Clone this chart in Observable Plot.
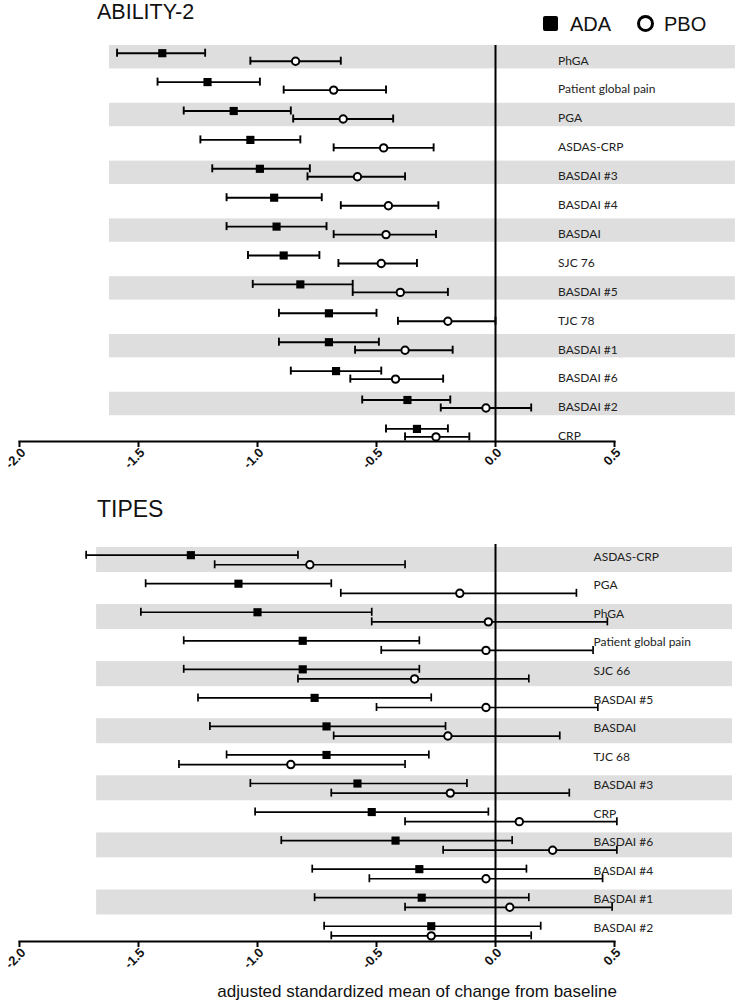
<!DOCTYPE html>
<html>
<head>
<meta charset="utf-8">
<script src="https://cdn.jsdelivr.net/npm/d3@7"></script>
<script src="https://cdn.jsdelivr.net/npm/@observablehq/plot@0.6"></script>
<style>
  html, body { margin: 0; padding: 0; background: #fff; }
  #wrap { position: relative; width: 738px; height: 1004px; font-family: "Liberation Sans", Arial, sans-serif; color: #111; }
  .abs { position: absolute; line-height: 1.15; white-space: nowrap; z-index: 2; }
  #top, #bot { position: absolute; left: 0; z-index: 1; }
  #top { top: 0; }
  #bot { top: 480px; }
</style>
</head>
<body>
<div id="wrap">
  <div id="top"></div>
  <div id="bot"></div>
  <div class="abs" style="left:97px; top:0px; font-size:21.5px;">ABILITY-2</div>
  <div class="abs" style="left:97px; top:496px; font-size:23px;">TIPES</div>
  <div class="abs" style="left:543px; top:16px; width:15px; height:15px; background:#000; border-radius:2px;"></div>
  <div class="abs" style="left:570px; top:12.5px; font-size:20px;">ADA</div>
  <div class="abs" style="left:637px; top:15px; width:11px; height:11px; border:3.5px solid #000; border-radius:50%;"></div>
  <div class="abs" style="left:664px; top:12.5px; font-size:20px;">PBO</div>
  <div class="abs" style="right:121px; top:982px; font-size:17px;">adjusted standardized mean of change from baseline</div>
</div>
<script>
// ---------- ABILITY-2 ----------
const abilityCats = ["PhGA","Patient global pain","PGA","ASDAS-CRP","BASDAI #3","BASDAI #4","BASDAI","SJC 76","BASDAI #5","TJC 78","BASDAI #1","BASDAI #6","BASDAI #2","CRP"];
const abilityAdaMean = [-1.40,-1.21,-1.10,-1.03,-0.99,-0.93,-0.92,-0.89,-0.82,-0.70,-0.70,-0.67,-0.37,-0.33];
const abilityAdaLo   = [-1.59,-1.42,-1.31,-1.24,-1.19,-1.13,-1.13,-1.04,-1.02,-0.91,-0.91,-0.86,-0.56,-0.46];
const abilityAdaHi   = [-1.22,-0.99,-0.86,-0.82,-0.78,-0.73,-0.71,-0.74,-0.60,-0.50,-0.49,-0.48,-0.19,-0.20];
const abilityPboMean = [-0.84,-0.68,-0.64,-0.47,-0.58,-0.45,-0.46,-0.48,-0.40,-0.20,-0.38,-0.42,-0.04,-0.25];
const abilityPboLo   = [-1.03,-0.89,-0.85,-0.68,-0.79,-0.65,-0.68,-0.66,-0.60,-0.41,-0.59,-0.61,-0.23,-0.38];
const abilityPboHi   = [-0.65,-0.46,-0.43,-0.26,-0.38,-0.24,-0.25,-0.33,-0.20,0.00,-0.18,-0.22,0.15,-0.11];

// ---------- TIPES ----------
const tipesCats = ["ASDAS-CRP","PGA","PhGA","Patient global pain","SJC 66","BASDAI #5","BASDAI","TJC 68","BASDAI #3","CRP","BASDAI #6","BASDAI #4","BASDAI #1","BASDAI #2"];
const tipesAdaMean = [-1.28,-1.08,-1.00,-0.81,-0.81,-0.76,-0.71,-0.71,-0.58,-0.52,-0.42,-0.32,-0.31,-0.27];
const tipesAdaLo   = [-1.72,-1.47,-1.49,-1.31,-1.31,-1.25,-1.20,-1.13,-1.03,-1.01,-0.90,-0.77,-0.76,-0.72];
const tipesAdaHi   = [-0.83,-0.69,-0.52,-0.32,-0.32,-0.27,-0.21,-0.28,-0.12,-0.03,0.07,0.13,0.14,0.19];
const tipesPboMean = [-0.78,-0.15,-0.03,-0.04,-0.34,-0.04,-0.20,-0.86,-0.19,0.10,0.24,-0.04,0.06,-0.27];
const tipesPboLo   = [-1.18,-0.65,-0.52,-0.48,-0.83,-0.50,-0.68,-1.33,-0.69,-0.38,-0.22,-0.53,-0.38,-0.69];
const tipesPboHi   = [-0.38,0.34,0.47,0.41,0.14,0.43,0.27,-0.38,0.31,0.51,0.51,0.45,0.49,0.15];

const xTicks = [-2.0,-1.5,-1.0,-0.5,0.0,0.5];

function rows(cats, am, al, ah, pm, pl, ph) {
  return cats.map((cat, i) => ({cat, i, adaMean: am[i], adaLo: al[i], adaHi: ah[i], pboMean: pm[i], pboLo: pl[i], pboHi: ph[i]}));
}

function panel(o) {
  const data = rows(...o.arrays);
  const n = data.length;
  const step = (o.yRange[1] - o.yRange[0]) / n;
  const bw = step * (1 - o.padInner);
  const capH = 8;
  const capInset = (bw - capH) / 2;
  const sw = o.barWidth;
  const striped = data.filter(d => d.i % 2 === 0);
  return Plot.plot({
    width: 738,
    height: o.height,
    marginLeft: 19,
    marginRight: 124,
    marginTop: o.marginTop,
    marginBottom: o.marginBottom,
    style: {fontFamily: "Liberation Sans, Arial, sans-serif", background: "transparent", overflow: "visible"},
    x: {domain: [-2, 0.5]},
    y: {type: "band", domain: data.map(d => d.cat), range: o.yRange, paddingInner: o.padInner, paddingOuter: o.padInner / 2, round: false, axis: null},
    marks: [
      Plot.barX(striped, {y: "cat", x1: o.bandX[0], x2: o.bandX[1], fill: "#dedede"}),
      Plot.ruleX([0], {stroke: "#000", strokeWidth: 2}),
      // ADA
      Plot.ruleY(data, {y: "cat", x1: "adaLo", x2: "adaHi", dy: o.adaDy, stroke: "#000", strokeWidth: sw}),
      Plot.tickX(data, {y: "cat", x: "adaLo", dy: o.adaDy, insetTop: capInset, insetBottom: capInset, stroke: "#000", strokeWidth: sw}),
      Plot.tickX(data, {y: "cat", x: "adaHi", dy: o.adaDy, insetTop: capInset, insetBottom: capInset, stroke: "#000", strokeWidth: sw}),
      // PBO
      Plot.ruleY(data, {y: "cat", x1: "pboLo", x2: "pboHi", dy: o.pboDy, stroke: "#000", strokeWidth: sw}),
      Plot.tickX(data, {y: "cat", x: "pboLo", dy: o.pboDy, insetTop: capInset, insetBottom: capInset, stroke: "#000", strokeWidth: sw}),
      Plot.tickX(data, {y: "cat", x: "pboHi", dy: o.pboDy, insetTop: capInset, insetBottom: capInset, stroke: "#000", strokeWidth: sw}),
      Plot.dot(data, {y: "cat", x: "adaMean", dy: o.adaDy, symbol: "square", r: 4.6, fill: "#000", stroke: "none"}),
      Plot.dot(data, {y: "cat", x: "pboMean", dy: o.pboDy, symbol: "circle", r: 3.7, fill: "#fff", stroke: "#000", strokeWidth: 2}),
      Plot.text(data, {y: "cat", x: o.labelX, text: "cat", dy: o.labelDy, textAnchor: "start", fontFamily: "Lato, 'Open Sans', sans-serif", fontSize: 12, fill: "#222"}),
      Plot.frame({anchor: "bottom", stroke: "#000", strokeWidth: 2}),
      // tick marks
      Plot.axisX({ticks: xTicks, tickSize: 6, strokeWidth: 2, stroke: "#000", fill: "none", label: null}),
      // tick labels
      Plot.axisX({ticks: xTicks, tickFormat: d => d.toFixed(1), tickRotate: -45, tickSize: 6, tickPadding: 3, stroke: "none", dx: 4, fontWeight: "bold", fontSize: 13, label: null, fill: "#111"})
    ]
  });
}

document.getElementById("top").append(panel({
  arrays: [abilityCats, abilityAdaMean, abilityAdaLo, abilityAdaHi, abilityPboMean, abilityPboLo, abilityPboHi],
  height: 480, marginTop: 45, marginBottom: 39,
  yRange: [42.25, 446.85], padInner: 0.19,
  bandX: [-1.622, 1.008], labelX: 0.263, labelDy: 3.5,
  adaDy: -4, pboDy: 4, barWidth: 1.9
}));

document.getElementById("bot").append(panel({
  arrays: [tipesCats, tipesAdaMean, tipesAdaLo, tipesAdaHi, tipesPboMean, tipesPboLo, tipesPboHi],
  height: 524, marginTop: 64, marginBottom: 63,
  yRange: [65.2, 464.8], padInner: 0.124,
  bandX: [-1.676, 0.996], labelX: 0.412, labelDy: -3,
  adaDy: -4.8, pboDy: 4.8, barWidth: 1.7
}));
</script>
</body>
</html>
